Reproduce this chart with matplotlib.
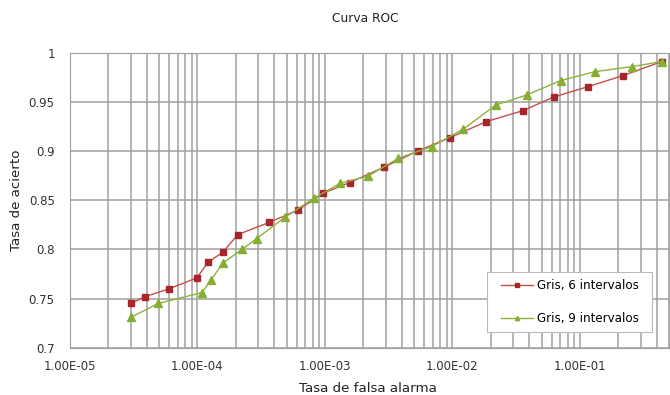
import matplotlib
matplotlib.use("Agg")
import matplotlib.pyplot as plt
from matplotlib.ticker import LogLocator, NullFormatter
from matplotlib.path import Path

plt.rcParams['font.family'] = ['DejaVu Sans']

# Gris, 6 intervalos
fa6 = [3.0e-5, 3.9e-5, 6.0e-5, 9.9e-5, 1.21e-4, 1.58e-4, 2.07e-4, 3.66e-4, 6.17e-4,
       9.6e-4, 1.57e-3, 2.9e-3, 5.33e-3, 9.55e-3, 1.85e-2, 3.56e-2, 6.25e-2, 0.116, 0.216, 0.44]
ac6 = [0.745, 0.752, 0.760, 0.771, 0.787, 0.797, 0.815, 0.8275, 0.840,
       0.857, 0.868, 0.8835, 0.900, 0.9136, 0.930, 0.941, 0.955, 0.9655, 0.9766, 0.991]

# Gris, 9 intervalos
fa9 = [3.0e-5, 4.93e-5, 1.08e-4, 1.28e-4, 1.58e-4, 2.24e-4, 2.91e-4, 4.85e-4, 8.2e-4,
       1.31e-3, 2.19e-3, 3.76e-3, 6.87e-3, 1.22e-2, 2.19e-2, 3.82e-2, 7.06e-2, 0.131, 0.254, 0.44]
ac9 = [0.731, 0.745, 0.756, 0.769, 0.786, 0.800, 0.811, 0.8326, 0.852,
       0.867, 0.8746, 0.8926, 0.9044, 0.9224, 0.9468, 0.957, 0.9716, 0.9807, 0.9858, 0.991]

yticks = [0.7, 0.75, 0.8, 0.85, 0.9, 0.95, 1.0]
ytick_labels = ["0.7", "0.75", "0.8", "0.85", "0.9", "0.95", "1"]
xticks = [1e-5, 1e-4, 1e-3, 1e-2, 1e-1]
xtick_labels = ["1.00E-05", "1.00E-04", "1.00E-03", "1.00E-02", "1.00E-01"]

W, H = 670, 395
fig = plt.figure(figsize=(W/100, H/100), dpi=100)
ax = fig.add_axes([70/W, (H-347.7)/H, (669-70)/W, (347.7-52.7)/H])

ax.plot(fa6, ac6, color='#C0504D', lw=1.0, marker='s', ms=5,
        markerfacecolor='#A8252B', markeredgecolor='#A8252B', label='Gris, 6 intervalos', zorder=3)
ax.plot(fa9, ac9, color='#8DB33A', lw=1.0, marker='^', ms=5.5,
        markerfacecolor='#86AE35', markeredgecolor='#86AE35', label='Gris, 9 intervalos', zorder=3)

ax.set_xscale('log')
ax.set_xlim(1e-5, 0.5)
ax.set_ylim(0.7, 1.0)
ax.set_xticks(xticks)
ax.set_xticklabels(xtick_labels)
ax.xaxis.set_minor_locator(LogLocator(base=10, subs=range(2, 10), numticks=20))
ax.xaxis.set_minor_formatter(NullFormatter())
ax.set_yticks(yticks)
ax.set_yticklabels(ytick_labels)

ax.grid(True, which='major', axis='both', color='#A0A0A0', lw=1.1)
ax.grid(True, which='minor', axis='x', color='#A0A0A0', lw=1.1)
ax.set_axisbelow(True)
ax.tick_params(which='both', length=0, labelsize=8.5, colors='#333333')
ax.tick_params(axis='x', pad=9)
ax.tick_params(axis='y', pad=11)
for s in ax.spines.values():
    s.set_color('#A0A0A0')

fig.text(365/W, 1 - 18/H, 'Curva ROC', fontsize=8.8, color='#222222', ha='center', va='center')
ax.set_xlabel('Tasa de falsa alarma', fontsize=9.6, color='#222222')
ax.xaxis.set_label_coords(0.497, -0.116)
ax.set_ylabel('Tasa de acierto', fontsize=9.6, color='#222222')
ax.yaxis.set_label_coords(-0.078, 0.5)

EXTRA_X = 7.0  # extra horizontal frame padding in pixels


def hpad_box(x0, y0, width, height, mutation_size):
    x0 = x0 - EXTRA_X
    width = width + 2 * EXTRA_X
    return Path([(x0, y0), (x0 + width, y0), (x0 + width, y0 + height),
                 (x0, y0 + height), (x0, y0)], closed=True)


leg = ax.legend(loc='lower right', bbox_to_anchor=((652 - EXTRA_X - 70) / 599, 0.053),
                borderaxespad=0, fontsize=8.6, frameon=True, fancybox=False,
                edgecolor='#BBBBBB', framealpha=1, markerscale=0.55,
                handlelength=2.7, handletextpad=0.3, labelspacing=1.72, borderpad=0.55)
leg.get_frame().set_linewidth(0.8)
leg.get_frame().set_boxstyle(hpad_box)

fig.savefig('out.png', dpi=100)
